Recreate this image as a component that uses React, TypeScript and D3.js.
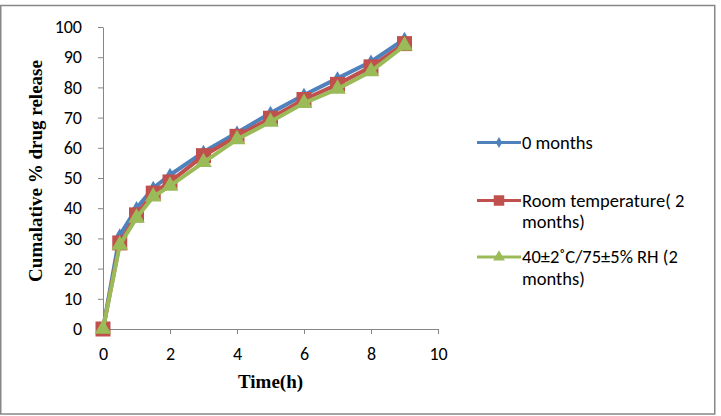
import React, { useEffect, useRef } from "react";
import * as d3 from "d3";

// release profile, sampling times in hours
const hours = [0, 0.5, 1, 1.5, 2, 3, 4, 5, 6, 7, 8, 9];
const zeroMonths = [0, 31, 40, 46.7, 51, 58.6, 65, 71.5, 77.5, 83, 88.5, 96];
const roomTemp = [0, 28.5, 37.8, 45, 48.7, 57.4, 63.8, 69.8, 76, 81, 86.8, 94.5];
const stressed = [0, 27.8, 36.8, 43.8, 47.4, 55.2, 62.8, 68.6, 74.8, 79.5, 85.3, 93.8];

const xTicks = [0, 2, 4, 6, 8, 10];
const yTicks = [0, 10, 20, 30, 40, 50, 60, 70, 80, 90, 100];

const seriesNames = [
  ["0 months"],
  ["Room temperature( 2", "months)"],
  ["40±2˚C/75±5% RH (2", "months)"],
];

const colors = ["#4F81BD", "#C0504D", "#9BBB59"];

const App = () => {
  const svgRef = useRef<SVGSVGElement>(null);

  useEffect(() => {
    const width = 721;
    const height = 416;
    const svg = d3.select(svgRef.current).attr("width", width).attr("height", height);
    svg.selectAll("*").remove();

    const font = "Carlito, Calibri, 'Liberation Sans', Arial, sans-serif";
    const serif = "'Liberation Serif', 'Times New Roman', serif";

    svg
      .append("rect")
      .attr("x", 0.75)
      .attr("y", 5.5)
      .attr("width", 714)
      .attr("height", 408.5)
      .attr("fill", "#fff")
      .attr("stroke", "#878787")
      .attr("stroke-width", 1.5);

    const xScale = d3.scaleLinear().domain([0, 10]).range([103, 438]);
    const yScale = d3.scaleLinear().domain([0, 100]).range([329, 27]);

    const xAxis = d3.axisBottom(xScale).tickValues(xTicks).tickSize(5).tickSizeOuter(0);
    const gx = svg.append("g").attr("transform", `translate(0,${yScale(0)})`).call(xAxis);
    gx.select(".domain").attr("stroke", "#868686");
    gx.selectAll("line").attr("stroke", "#868686");
    gx.selectAll("text")
      .attr("font-family", font)
      .attr("font-size", 18)
      .attr("fill", "#000")
      .attr("y", 31)
      .attr("dy", 0);

    const yAxis = d3.axisLeft(yScale).tickValues(yTicks).tickSize(5).tickSizeOuter(0);
    const gy = svg.append("g").attr("transform", `translate(${xScale(0)},0)`).call(yAxis);
    gy.select(".domain").attr("stroke", "#868686");
    gy.selectAll("line").attr("stroke", "#868686");
    gy.selectAll("text")
      .attr("font-family", font)
      .attr("font-size", 18)
      .attr("fill", "#000")
      .attr("x", -21);

    svg
      .append("text")
      .attr("x", xScale(5))
      .attr("y", 388)
      .attr("text-anchor", "middle")
      .attr("font-family", serif)
      .attr("font-weight", "bold")
      .attr("font-size", 19)
      .text("Time(h)");

    svg
      .append("text")
      .attr("transform", `translate(42,171) rotate(-90)`)
      .attr("text-anchor", "middle")
      .attr("font-family", serif)
      .attr("font-weight", "bold")
      .attr("font-size", 19)
      .text("Cumalative % drug release");

    const allSeries = [zeroMonths, roomTemp, stressed];
    const line = d3
      .line<number>()
      .x((_, i) => xScale(hours[i]))
      .y((d) => yScale(d));

    const symbols = [
      d3.symbol().type(d3.symbolDiamond).size(60),
      d3.symbol().type(d3.symbolSquare).size(225),
      d3.symbol().type(d3.symbolTriangle).size(120),
    ];

    allSeries.forEach((values, s) => {
      svg
        .append("path")
        .datum(values)
        .attr("d", line)
        .attr("fill", "none")
        .attr("stroke", colors[s])
        .attr("stroke-width", 4)
        .attr("stroke-linejoin", "round");

      svg
        .selectAll(`.mark${s}`)
        .data(values)
        .enter()
        .append("path")
        .attr("class", `mark${s}`)
        .attr("d", symbols[s]())
        .attr("transform", (d, i) => `translate(${xScale(hours[i])},${yScale(d)})`)
        .attr("fill", colors[s]);
    });

    // legend
    const legendLineY = [142.5, 200.5, 257];
    const legendSymbols = [
      d3.symbol().type(d3.symbolDiamond).size(35),
      d3.symbol().type(d3.symbolSquare).size(110),
      d3.symbol().type(d3.symbolTriangle).size(60),
    ];
    seriesNames.forEach((lines, s) => {
      const g = svg.append("g").attr("transform", `translate(0,${legendLineY[s]})`);
      g.append("line")
        .attr("x1", 477)
        .attr("x2", 521)
        .attr("y1", 0)
        .attr("y2", 0)
        .attr("stroke", colors[s])
        .attr("stroke-width", 3);
      g.append("path")
        .attr("d", legendSymbols[s]())
        .attr("transform", "translate(499,0)")
        .attr("fill", colors[s]);
      lines.forEach((t, k) => {
        g.append("text")
          .attr("x", 522)
          .attr("y", 6 + k * 21.5)
          .attr("font-family", font)
          .attr("font-size", 18.5)
          .attr("fill", "#000")
          .text(t);
      });
    });
  }, []);

  return (
    <div>
      <svg ref={svgRef} style={{ display: "block", position: "absolute", left: 0, top: 0 }}></svg>
    </div>
  );
};

export default App;
